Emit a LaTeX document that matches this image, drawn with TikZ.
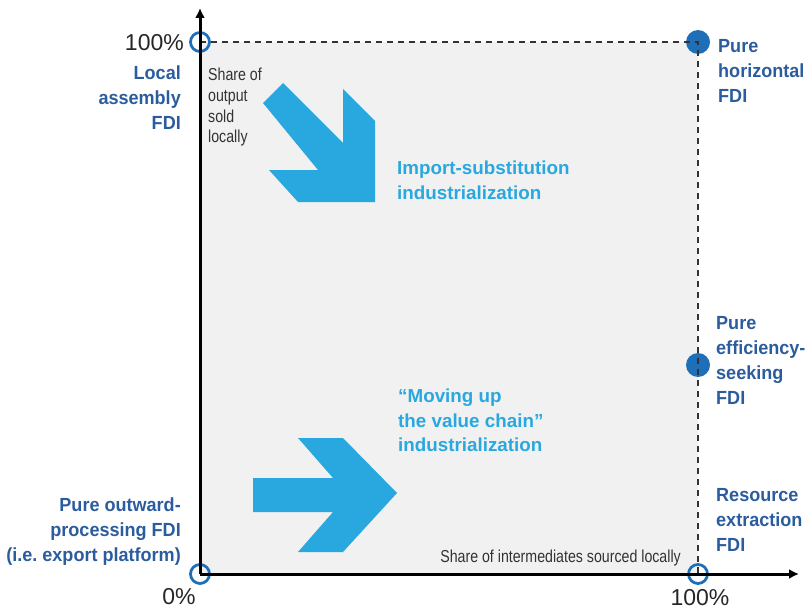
\documentclass[tikz,border=0pt]{standalone}
\usepackage{fontspec}
\setmainfont{Liberation Sans}
\newfontfamily\condfont[FakeStretch=0.82]{Liberation Sans}
\newfontfamily\labelfont[FakeStretch=0.95]{Liberation Sans}
\usetikzlibrary{arrows.meta}
\definecolor{darkblue}{HTML}{2B5C9E}
\definecolor{lightblue}{HTML}{29A8E0}
\definecolor{dotblue}{HTML}{1F6FB8}
\definecolor{panel}{HTML}{F1F1F1}
\definecolor{inkgray}{HTML}{333333}
\begin{document}
\begin{tikzpicture}[x=1pt,y=-1pt,
  fdilabel/.style={inner sep=0pt, text=darkblue, font=\labelfont\fontsize{19}{25}\selectfont\bfseries},
  pathlabel/.style={inner sep=0pt, text=lightblue, font=\fontsize{18.8}{24.5}\selectfont\bfseries, align=left, anchor=north west},
  axislabel/.style={inner sep=0pt, text=inkgray, font=\condfont\fontsize{17.3}{20.7}\selectfont},
  pct/.style={inner sep=0pt, text=black!85, font=\fontsize{23}{23}\selectfont},
  ring/.style={circle, draw=dotblue, line width=2.8pt, minimum size=19pt, inner sep=0pt},
  dot/.style={circle, fill=dotblue, minimum size=24pt, inner sep=0pt},
  axis/.style={line width=3pt, -{Latex[length=10pt,width=10pt]}},
  guide/.style={inkgray, line width=1.4pt, dash pattern=on 6pt off 5pt},
  bigarrow/.style={fill=lightblue}]

\useasboundingbox (0,0) rectangle (809,610);

% shaded quadrant
\fill[panel] (201,42) rectangle (698,573);

% diagonal arrow: import substitution
\fill[bigarrow] (263,103) -- (283,83) -- (343,143) -- (343,89) -- (375,121)
  -- (375,202) -- (298,202) -- (269,170) -- (318,170) -- cycle;

% horizontal arrow: moving up the value chain
\fill[bigarrow] (253,478) -- (333,478) -- (298,438) -- (343,438) -- (397,493)
  -- (343,552) -- (298,552) -- (333,512) -- (253,512) -- cycle;

% corner markers
\node[dot] (hz) at (698,42) {};
\node[dot] (eff) at (698,365) {};
\node[ring] (o) at (200,574) {};
\node[ring] (ytop) at (200,42) {};
\node[ring] (xend) at (698,574) {};

% dashed boundary of the quadrant
\draw[guide] (ytop.center) -- (hz.center) -- (xend.center);

% axes
\coordinate (ytip) at (200,8);
\coordinate (xtip) at (799,574);
\draw[axis] (o.center) -- (ytip);
\draw[axis] (o.center) -- (xtip);

% percentage marks
\node[pct, anchor=base east] (p100y) at (184,51) {100\%};
\node[pct, anchor=base] (p0) at (179,604) {0\%};
\node[pct, anchor=base] (p100x) at (700,605) {100\%};

% axis captions
\node[axislabel, align=left, anchor=north west] (ycap) at (208,68)
  {Share of\\output\\sold\\locally};
\node[axislabel, anchor=base east] (xcap) at (681,562)
  {Share of intermediates sourced locally};

% FDI types
\node[fdilabel, align=right, anchor=north east] (local) at (181,66)
  {Local\\assembly\\FDI};
\node[fdilabel, align=right, anchor=north east] (outward) at (181,498)
  {Pure outward-\\processing FDI\\(i.e.\ export platform)};
\node[fdilabel, align=left, anchor=north west] (horiz) at (718,39)
  {Pure\\horizontal\\FDI};
\node[fdilabel, align=left, anchor=north west] (effl) at (716,316)
  {Pure\\efficiency-\\seeking\\FDI};
\node[fdilabel, align=left, anchor=north west] (res) at (716,488)
  {Resource\\extraction\\FDI};

% industrialization paths
\node[pathlabel] (isi) at (397,161)
  {Import-substitution\\industrialization};
\node[pathlabel] (mvc) at (398,389)
  {``Moving up\\the value chain''\\industrialization};

\end{tikzpicture}
\end{document}
